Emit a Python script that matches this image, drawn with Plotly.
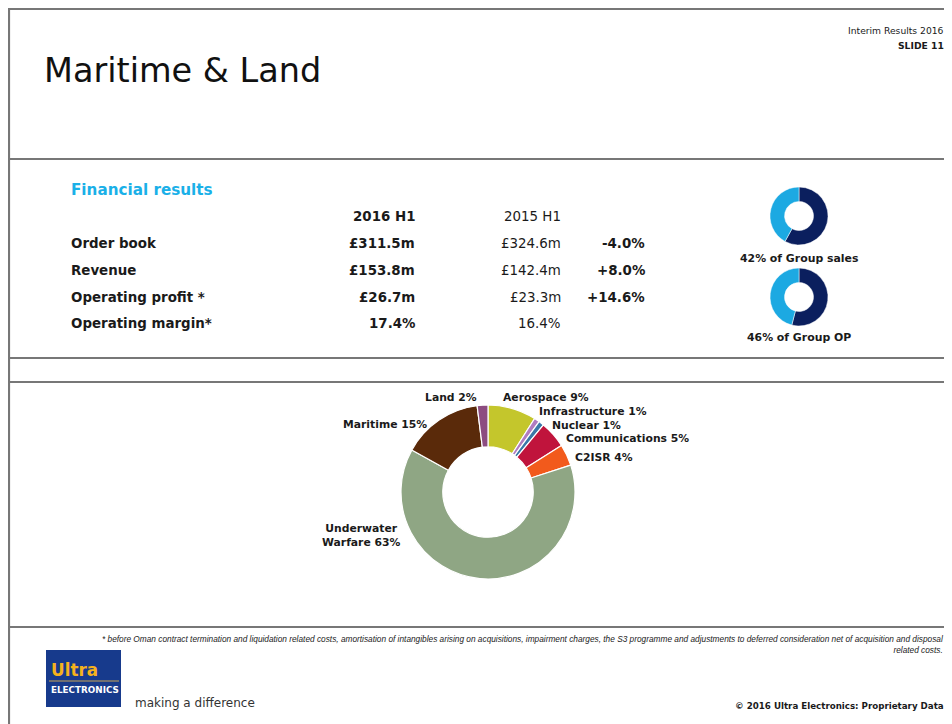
import plotly.graph_objects as go

# page offset: the figure div sits 8px from the page edges
OFF = 8
W, H = 952 - OFF, 724 - OFF
FONT = "DejaVu Sans"

# ---------------- data ----------------
segments = ["Aerospace", "Infrastructure", "Nuclear", "Communications", "C2ISR",
            "Underwater Warfare", "Maritime", "Land"]
segment_pct = [9, 1, 1, 5, 4, 63, 15, 2]
segment_colors = ["#c4c62c", "#b07cc0", "#3a78a8", "#c0143c", "#f25a1c",
                  "#8fa684", "#5a2a0a", "#8c4c80"]

col_headers = ["2016 H1", "2015 H1"]
row_labels = ["Order book", "Revenue", "Operating profit *", "Operating margin*"]
h1_2016 = ["£311.5m", "£153.8m", "£26.7m", "17.4%"]
h1_2015 = ["£324.6m", "£142.4m", "£23.3m", "16.4%"]
change = ["-4.0%", "+8.0%", "+14.6%", ""]

group_share_labels = ["of Group sales", "of Group OP"]
group_share_pct = [42, 46]
share_colors = ["#0b1f5e", "#1ca9e2"]

footnote_lines = [
    "* before Oman contract termination and liquidation related costs, amortisation of intangibles arising on acquisitions, impairment charges, the S3 programme and adjustments to deferred consideration net of acquisition and disposal",
    "related costs.",
]

# ---------------- figure ----------------
fig = go.Figure()


def dom_x(cx, r):
    return [(cx - OFF - r) / W, (cx - OFF + r) / W]


def dom_y(cy, r):
    return [(H - (cy - OFF) - r) / H, (H - (cy - OFF) + r) / H]


# main donut
fig.add_trace(go.Pie(
    labels=segments, values=segment_pct, sort=False, direction="clockwise",
    rotation=0, hole=0.52, textinfo="none", hoverinfo="label+percent",
    marker=dict(colors=segment_colors, line=dict(color="#ffffff", width=1.2)),
    domain=dict(x=dom_x(488, 87), y=dom_y(492, 87)), showlegend=False,
))

# small group-share donuts
share_centers = [216, 297]
for pct, cy in zip(group_share_pct, share_centers):
    fig.add_trace(go.Pie(
        labels=["Other", "Maritime & Land"], values=[100 - pct, pct], sort=False,
        direction="clockwise", rotation=0, hole=0.5, textinfo="none",
        marker=dict(colors=share_colors, line=dict(color="#ffffff", width=0.5)),
        domain=dict(x=dom_x(799, 29), y=dom_y(cy, 29)), showlegend=False,
    ))

ann = []


def text(x, y, s, size, anchor="left", bold=False, color="#1a1a1a", italic=False, family=FONT):
    if bold:
        s = f"<b>{s}</b>"
    if italic:
        s = f"<i>{s}</i>"
    ann.append(dict(x=x, y=y, xref="x", yref="y", text=s, showarrow=False,
                    xanchor=anchor, yanchor="middle", align=anchor if anchor != "center" else "center",
                    font=dict(family=family, size=size, color=color)))


# header
text(946, 30, "Interim Results 2016", 9.2, "right")
text(946, 45, "SLIDE 11", 9.2, "right", bold=True)
text(42, 70, "Maritime &amp; Land", 33.5, "left", color="#111111")

# financial table
text(69, 190, "Financial results", 15.2, "left", bold=True, color="#1ab0e8")
text(417, 216, col_headers[0], 13.4, "right", bold=True)
text(563, 216, col_headers[1], 13.4, "right")
row_y = [243, 270, 297, 323]
for lab, a, b, c, y in zip(row_labels, h1_2016, h1_2015, change, row_y):
    text(69, y, lab, 13.4, "left", bold=True)
    text(417, y, a, 13.4, "right", bold=True)
    text(563, y, b, 13.4, "right")
    if c:
        text(647, y, c, 13.4, "right", bold=True)

share_label_y = [258, 337]
for pct, lab, y in zip(group_share_pct, group_share_labels, share_label_y):
    text(799, y, f"{pct}% {lab}", 10.9, "center", bold=True)

# donut labels
seg_label_pos = {
    "Aerospace": (501, 397, "left"),
    "Infrastructure": (537, 411, "left"),
    "Nuclear": (550, 425, "left"),
    "Communications": (564, 438, "left"),
    "C2ISR": (573, 457, "left"),
    "Underwater Warfare": (361, 535, "center"),
    "Maritime": (429, 424, "right"),
    "Land": (479, 397, "right"),
}
for name, pct in zip(segments, segment_pct):
    x, y, anc = seg_label_pos[name]
    label = f"{name} {pct}%"
    if name == "Underwater Warfare":
        label = f"Underwater<br>Warfare {pct}%"
    text(x, y, label, 10.8, anc, bold=True)

# footnote (one block, right aligned)
text(946, 644, "<br>".join(footnote_lines), 8.3, "right", italic=True, color="#222222",
     family="Liberation Sans")

# logo & footer
text(49, 670, "Ultra", 16.8, "left", bold=True, color="#f5b21c")
text(49, 690, "ELECTRONICS", 8.8, "left", bold=True, color="#ffffff")
text(133, 703, "making a difference", 12, "left", color="#333333")
text(946, 706, "© 2016 Ultra Electronics: Proprietary Data", 8.7, "right", bold=True)

shapes = []
line_col = "#777777"
for y in [159, 358, 382, 627]:
    shapes.append(dict(type="line", xref="x", yref="y", x0=8, x1=960, y0=y, y1=y,
                       line=dict(color=line_col, width=2.2)))
shapes.append(dict(type="line", xref="x", yref="y", x0=8, x1=960, y0=9, y1=9,
                   line=dict(color=line_col, width=2.2)))
shapes.append(dict(type="line", xref="x", yref="y", x0=9, x1=9, y0=8, y1=730,
                   line=dict(color=line_col, width=2.2)))
# logo box
shapes.append(dict(type="rect", xref="x", yref="y", x0=46, x1=121, y0=650, y1=707,
                   fillcolor="#173a8c", line=dict(color="#173a8c", width=0), layer="below"))
shapes.append(dict(type="line", xref="x", yref="y", x0=49, x1=119, y0=681, y1=681,
                   line=dict(color="#c9a457", width=1)))

fig.update_layout(
    width=W, height=H, margin=dict(l=0, r=0, t=0, b=0),
    paper_bgcolor="#ffffff", plot_bgcolor="#ffffff",
    xaxis=dict(range=[OFF, OFF + W], visible=False, fixedrange=True),
    yaxis=dict(range=[OFF + H, OFF], visible=False, fixedrange=True),
    annotations=ann, shapes=shapes, showlegend=False,
)

fig.write_html("out.html")
